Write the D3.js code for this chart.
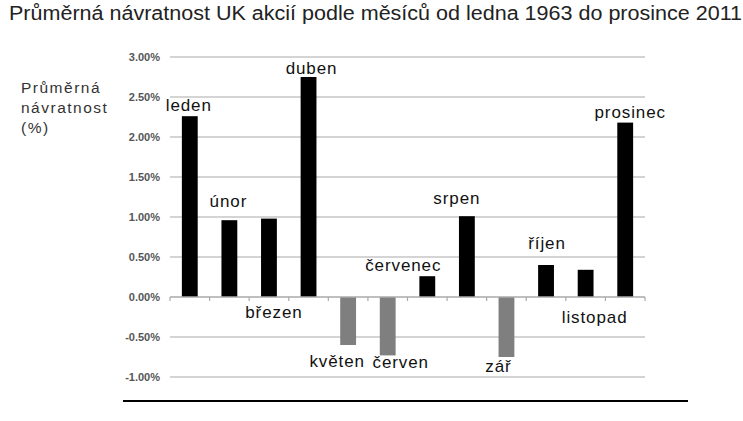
<!DOCTYPE html>
<html>
<head>
<meta charset="utf-8">
<script src="https://cdn.jsdelivr.net/npm/d3@7"></script>
<style>
  html, body { margin: 0; padding: 0; background: #fff; }
  svg { display: block; font-family: "Liberation Sans", Arial, sans-serif; }
</style>
</head>
<body>
<svg id="chart" width="743" height="421"></svg>
<script>
// ---- data ----
const months = ["leden", "únor", "březen", "duben", "květen", "červen",
                "červenec", "srpen", "září", "říjen", "listopad", "prosinec"];
const monthLabels = ["leden", "únor", "březen", "duben", "květen", "červen",
                     "červenec", "srpen", "zář", "říjen", "listopad", "prosinec"];
const returns = [2.26, 0.96, 0.98, 2.75, -0.60, -0.73, 0.26, 1.01, -0.75, 0.40, 0.34, 2.18];
const yTicks = [-1.0, -0.5, 0.0, 0.5, 1.0, 1.5, 2.0, 2.5, 3.0];
const titleText = "Průměrná návratnost UK akcií podle měsíců od ledna 1963 do prosince 2011";
const yTitleLines = ["Průměrná", "návratnost", "(%)"];

// ---- layout (label offsets relative to bar end: [dx, dy]) ----
const labelOffsets = [[-1, -5], [-1, -13], [5, 99], [3, -3], [-11, 22], [13, 13],
                      [-24, -5], [-10, -12], [-8, 15], [1, -16], [9, 53], [5, -5]];

const svg = d3.select("#chart");
const x = d3.scaleBand().domain(months).range([170, 645]).paddingInner(0.6).paddingOuter(0.3);
const y = d3.scaleLinear().domain([-1, 3]).range([377, 57]);

// title
svg.append("text")
  .attr("x", 9).attr("y", 19.5)
  .attr("font-size", 20).attr("fill", "#222")
  .attr("textLength", 733).attr("lengthAdjust", "spacingAndGlyphs")
  .text(titleText);

// y axis title
svg.append("g").selectAll("text").data(yTitleLines).join("text")
  .attr("x", 21).attr("y", (d, i) => 93 + i * 20)
  .attr("font-size", 15.5).attr("letter-spacing", 1.5).attr("fill", "#333")
  .text(d => d);

// gridlines
svg.append("g").selectAll("line").data(yTicks.filter(v => v !== 0)).join("line")
  .attr("x1", 170).attr("x2", 645)
  .attr("y1", d => y(d)).attr("y2", d => y(d))
  .attr("stroke", "#c6c6c6").attr("stroke-width", 1.6);

// y axis labels
const yAxis = d3.axisLeft(y).tickValues(yTicks)
  .tickFormat(d => d.toFixed(2) + "%").tickSize(0).tickPadding(10);
const ya = svg.append("g").attr("transform", "translate(170,0)").call(yAxis);
ya.select(".domain").remove();
ya.selectAll("text").attr("font-size", 11).attr("font-weight", "bold").attr("fill", "#555")
  .attr("font-family", "'Liberation Sans', Arial, sans-serif");

// bars
svg.append("g").selectAll("rect").data(returns).join("rect")
  .attr("x", (d, i) => x(months[i]))
  .attr("width", x.bandwidth())
  .attr("y", d => y(Math.max(0, d)))
  .attr("height", d => Math.abs(y(d) - y(0)))
  .attr("fill", d => d >= 0 ? "#000" : "#7f7f7f");

// zero axis line with ticks at band boundaries
const zx = svg.append("g");
zx.append("line").attr("x1", 170).attr("x2", 645).attr("y1", y(0)).attr("y2", y(0))
  .attr("stroke", "#aaa").attr("stroke-width", 1.6);
const bounds = d3.range(months.length + 1).map(i => 170 + i * x.step());
zx.selectAll(".tk").data(bounds).join("line").attr("class", "tk")
  .attr("x1", d => d).attr("x2", d => d)
  .attr("y1", y(0)).attr("y2", y(0) + 4)
  .attr("stroke", "#aaa").attr("stroke-width", 1.2);

// month labels
svg.append("g").selectAll("text").data(returns).join("text")
  .attr("x", (d, i) => x(months[i]) + x.bandwidth() / 2 + labelOffsets[i][0])
  .attr("y", (d, i) => y(d) + labelOffsets[i][1])
  .attr("text-anchor", "middle")
  .attr("font-size", 17).attr("letter-spacing", 0.9).attr("fill", "#111")
  .text((d, i) => monthLabels[i]);

// bottom black rule
svg.append("line").attr("x1", 123).attr("x2", 688).attr("y1", 401).attr("y2", 401)
  .attr("stroke", "#000").attr("stroke-width", 2);
</script>
</body>
</html>
